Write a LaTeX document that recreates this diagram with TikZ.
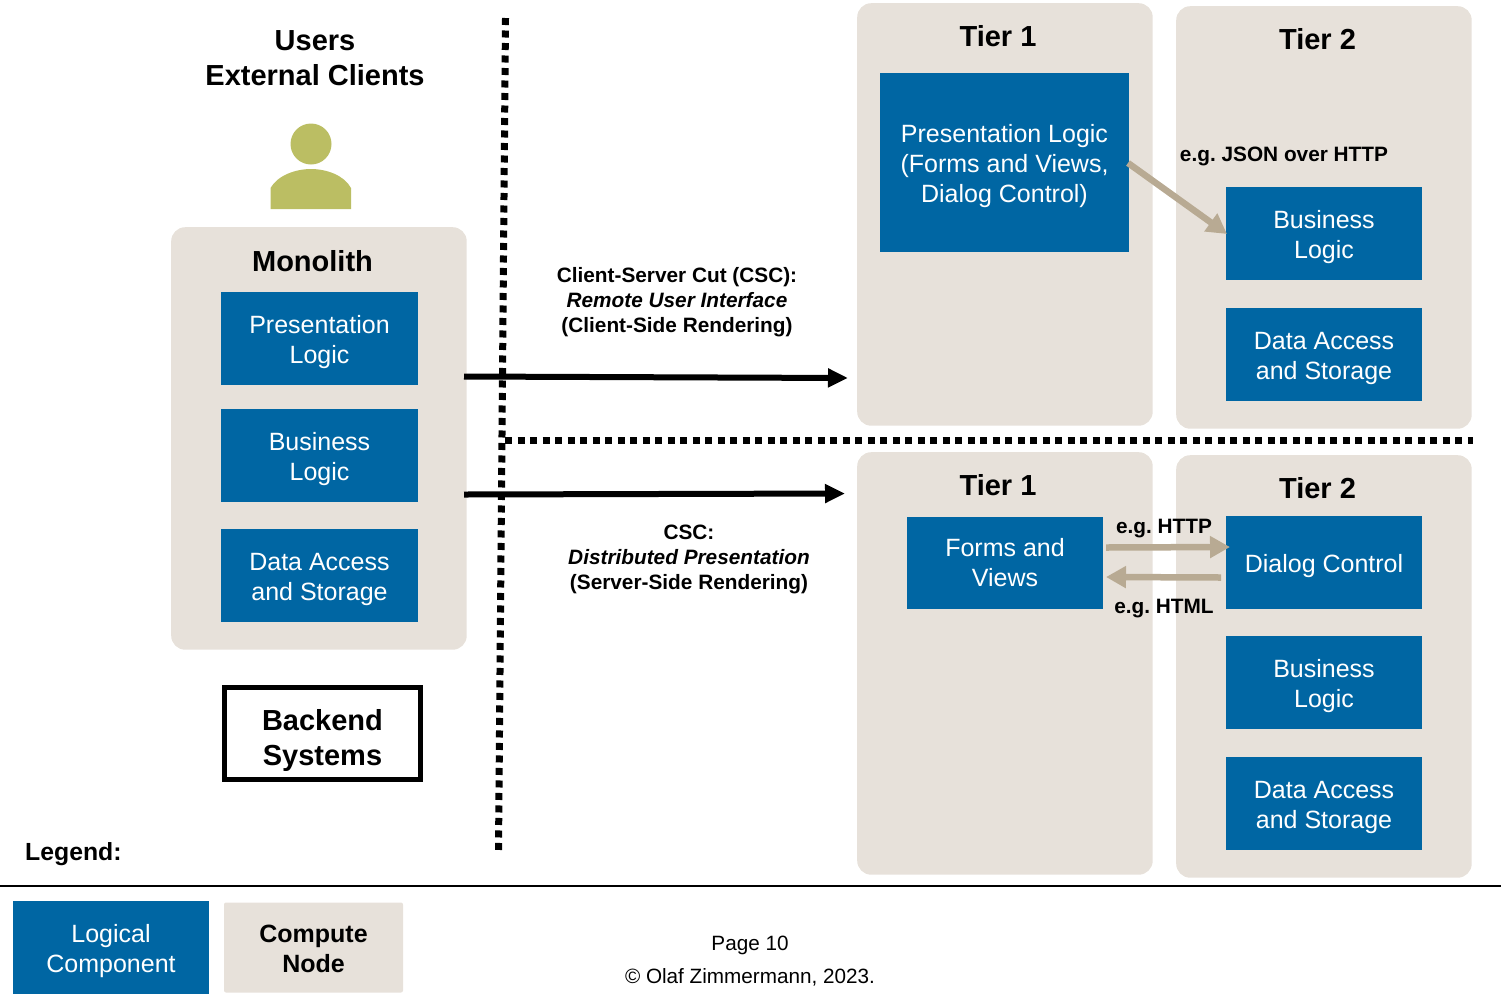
\documentclass[tikz,border=0pt]{standalone}
\usepackage{fontspec}
\setmainfont{Liberation Sans}
\usetikzlibrary{arrows.meta}
\definecolor{tierbg}{RGB}{231,225,218}
\definecolor{logicblue}{RGB}{0,102,163}
\definecolor{linktan}{RGB}{184,170,147}
\definecolor{userolive}{RGB}{187,190,99}
\newcommand{\dropline}[1][26pt]{\rule{0pt}{#1}}
\frenchspacing
\tikzset{
  computenode/.style={fill=tierbg,rounded corners=14pt,anchor=north west,inner sep=0pt,minimum width=295.5pt,minimum height=422.5pt},
  logicbox/.style={fill=logicblue,text=white,align=center,inner sep=0pt,font=\fontsize{25}{30}\selectfont},
  tiertitle/.style={font=\bfseries\fontsize{29}{35}\selectfont,align=center,inner sep=0pt},
  linklabel/.style={font=\bfseries\fontsize{20.8}{25}\selectfont,align=center,inner sep=0pt},
  csclabel/.style={font=\bfseries\fontsize{20.8}{25}\selectfont,align=center,inner sep=0pt},
  cutline/.style={line width=7pt,dash pattern=on 7pt off 5.5pt,black},
  cscarrow/.style={-{Triangle[length=20pt,width=18pt]},line width=6pt,black},
  tanarrow/.style={-{Triangle[length=20pt,width=21pt]},line width=6.5pt,linktan},
}
\begin{document}
\begin{tikzpicture}[x=1pt,y=-1pt]
\useasboundingbox (0,0) rectangle (1501,994);

% compute nodes
\node[computenode] (mono) at (171,227) {};
\node[computenode] (upT1) at (857,3) {};
\node[computenode] (upT2) at (1176,6) {};
\node[computenode] (loT1) at (857,452) {};
\node[computenode] (loT2) at (1176,455) {};

% users
\node[tiertitle] (users) at (315,58.5) {Users\\External Clients};
\fill[userolive] (311,144) circle (20.5pt);
\fill[userolive] (270.5,209) -- (270.5,188) .. controls (278,175) and (296,169) .. (311,169)
  .. controls (326,169) and (344,175) .. (351,188) -- (351,209) -- cycle;

% monolith
\node[tiertitle] (monoT) at (312.5,261) {Monolith};
\node[logicbox,minimum width=197pt,minimum height=93pt] (monoP) at (319.5,338.5) {\dropline Presentation\\Logic};
\node[logicbox,minimum width=197pt,minimum height=93pt] (monoB) at (319.5,455.5) {\dropline Business\\Logic};
\node[logicbox,minimum width=197pt,minimum height=93pt] (monoD) at (319.5,575.5) {\dropline Data Access\\and Storage};

% backend
\node[draw=black,line width=5pt,minimum width=196pt,minimum height=92pt,align=center,inner sep=0pt,
  font=\bfseries\fontsize{29}{35}\selectfont] (backend) at (322.5,733.5) {\dropline[35pt]Backend\\Systems};

% upper tiers
\node[tiertitle] (upT1t) at (998,36) {Tier 1};
\node[tiertitle] (upT2t) at (1317.5,39) {Tier 2};
\node[logicbox,minimum width=249pt,minimum height=179pt] (upP) at (1004.5,162.5) {\dropline Presentation Logic\\(Forms and Views,\\Dialog Control)};
\node[logicbox,minimum width=196pt,minimum height=93pt] (upB) at (1324,233.5) {\dropline Business\\Logic};
\node[logicbox,minimum width=196pt,minimum height=93pt] (upD) at (1324,354.5) {\dropline Data Access\\and Storage};
\node[linklabel] (json) at (1284,156) {e.g. JSON over HTTP};

% lower tiers
\node[tiertitle] (loT1t) at (998,485) {Tier 1};
\node[tiertitle] (loT2t) at (1317.5,488) {Tier 2};
\node[logicbox,minimum width=196pt,minimum height=92pt] (loF) at (1005,563) {Forms and\\Views};
\node[logicbox,minimum width=196pt,minimum height=93pt] (loC) at (1324,562.5) {\dropline Dialog Control};
\node[logicbox,minimum width=196pt,minimum height=93pt] (loB) at (1324,682.5) {\dropline Business\\Logic};
\node[logicbox,minimum width=196pt,minimum height=93pt] (loD) at (1324,803.5) {\dropline Data Access\\and Storage};
\node[linklabel] (http) at (1164,529) {e.g. HTTP};
\node[linklabel] (html) at (1164,609) {e.g. HTML};

% cut labels
\node[csclabel] (cscUp) at (677,302) {Client-Server Cut (CSC):\\\textit{Remote User Interface}\\(Client-Side Rendering)};
\node[csclabel] (cscLo) at (689,559) {CSC:\\\textit{Distributed Presentation}\\(Server-Side Rendering)};

% cuts
\coordinate (vcutA) at (505.5,18);
\coordinate (vcutB) at (498.5,850);
\coordinate (hcutA) at (505,440.5);
\coordinate (hcutB) at (1473,440.5);
\draw[cutline] (vcutA) -- (vcutB);
\draw[cutline] (hcutA) -- (hcutB);

% arrows
\coordinate (upA) at (464,376.5);
\coordinate (upZ) at (848,378);
\coordinate (loA) at (464,494.5);
\coordinate (loZ) at (845,493.5);
\draw[cscarrow] (upA) -- (upZ);
\draw[cscarrow] (loA) -- (loZ);
\coordinate (jsonA) at (1128,163);
\coordinate (jsonZ) at (1227,234);
\draw[tanarrow] (jsonA) -- (jsonZ);
\coordinate (httpA) at (1106,547.5);
\coordinate (httpZ) at (1230,547);
\coordinate (htmlA) at (1221,577.5);
\coordinate (htmlZ) at (1106,577);
\draw[tanarrow] (httpA) -- (httpZ);
\draw[tanarrow] (htmlA) -- (htmlZ);

% legend
\node[font=\bfseries\fontsize{24.8}{30}\selectfont,anchor=west,inner sep=0pt] (legend) at (25,854) {Legend:};
\coordinate (ruleA) at (0,885.5);
\coordinate (ruleB) at (1501,885.5);
\draw[line width=2pt] (ruleA) -- (ruleB);
\node[logicbox,minimum width=196pt,minimum height=93pt] (legLogic) at (111,947.5) {\dropline Logical\\Component};
\node[fill=tierbg,rounded corners=2pt,minimum width=179pt,minimum height=90pt,align=center,inner sep=0pt,
  font=\bfseries\fontsize{25}{30}\selectfont] (legNode) at (313.5,947.5) {\dropline[20.6pt]Compute\\Node};
\node[font=\fontsize{20.7}{33}\selectfont,align=center,inner sep=0pt] (page) at (750,961) {Page 10\\© Olaf Zimmermann, 2023.};
\end{tikzpicture}
\end{document}
